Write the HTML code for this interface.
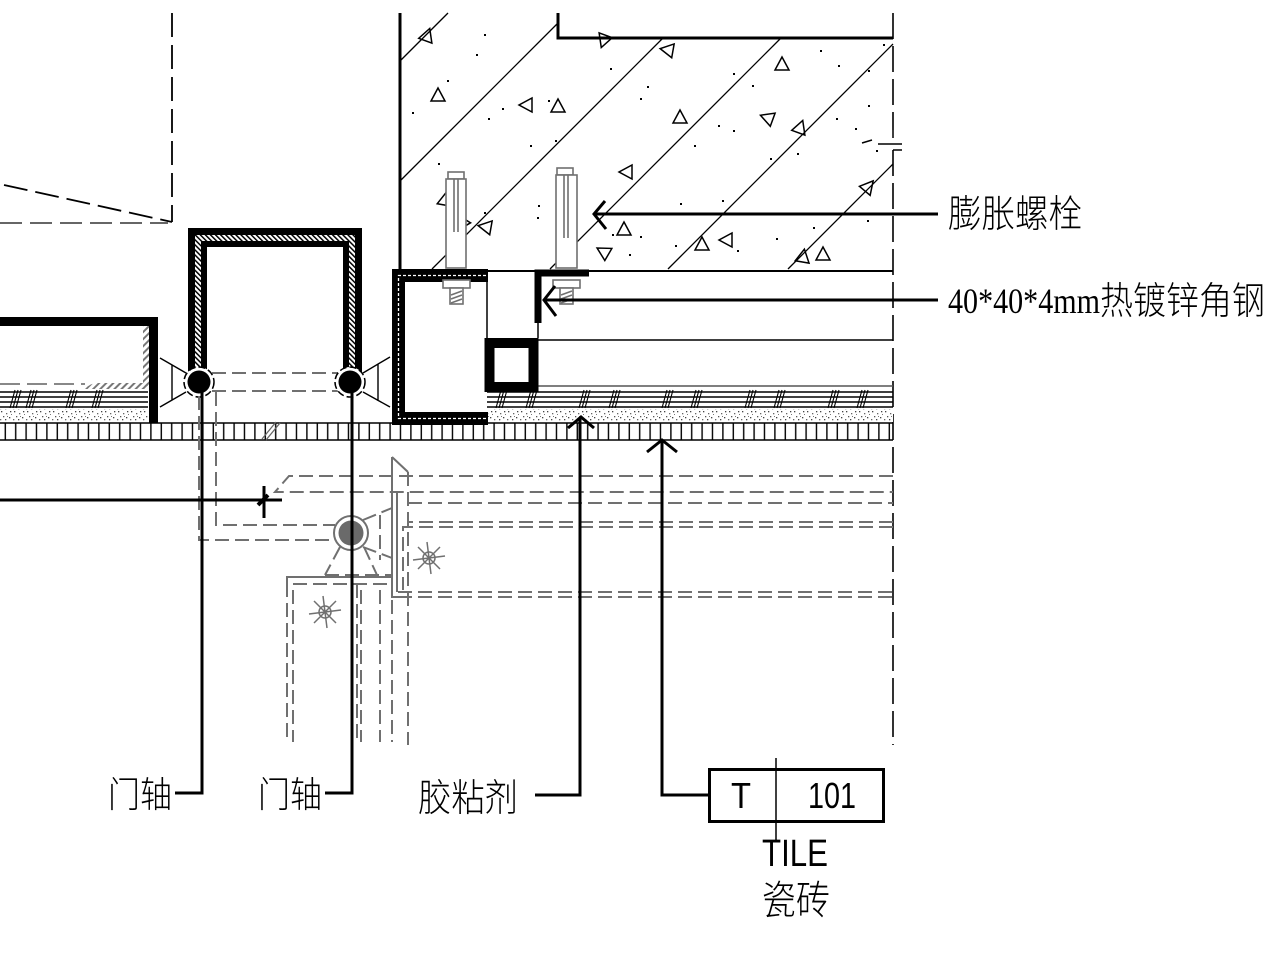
<!DOCTYPE html>
<html><head><meta charset="utf-8">
<style>html,body{margin:0;padding:0;background:#fff}svg{display:block}</style>
</head>
<body>
<svg width="1280" height="960" viewBox="0 0 1280 960" xmlns="http://www.w3.org/2000/svg">
<defs>
 <pattern id="ticks" patternUnits="userSpaceOnUse" x="0" y="423" width="10.4" height="17">
  <rect x="4.6" y="0" width="1.4" height="17" fill="#000"/>
 </pattern>
 <pattern id="dots" patternUnits="userSpaceOnUse" width="13" height="11" x="0" y="410">
  <rect width="13" height="11" fill="#fff"/>
  <rect x="1" y="1" width="1.3" height="1.3" fill="#444"/>
  <rect x="6" y="3" width="1.3" height="1.3" fill="#666"/>
  <rect x="10" y="1" width="1.3" height="1.3" fill="#444"/>
  <rect x="3" y="6" width="1.3" height="1.3" fill="#555"/>
  <rect x="9" y="7" width="1.3" height="1.3" fill="#444"/>
  <rect x="0" y="9" width="1.3" height="1.3" fill="#666"/>
  <rect x="5" y="9" width="1.3" height="1.3" fill="#444"/>
  <rect x="11" y="4" width="1" height="1" fill="#777"/>
  <rect x="7" y="6" width="1" height="1" fill="#777"/>
 </pattern>
 <pattern id="hatch" patternUnits="userSpaceOnUse" width="3.6" height="3.6" patternTransform="rotate(-45)">
  <rect x="0" y="0" width="1.5" height="3.6" fill="#000"/>
 </pattern>
 <pattern id="ghatch" patternUnits="userSpaceOnUse" width="5" height="5" patternTransform="rotate(45)">
  <rect x="0" y="0" width="2" height="5" fill="#777"/>
 </pattern>
 <g id="sl" stroke="#000" stroke-width="1.1">
  <line x1="0" y1="408" x2="5" y2="390"/>
  <line x1="3" y1="408" x2="8" y2="390"/>
  <line x1="6" y1="408" x2="11" y2="390"/>
 </g>
 <path id="tri" d="M-7,5 L7,5 L0,-8 Z" fill="none" stroke="#000" stroke-width="1.5"/>
 <g id="sun" stroke="#707070" stroke-width="1.5" fill="none">
  <circle cx="0" cy="0" r="6"/>
  <line x1="-16" y1="2" x2="16" y2="-2"/>
  <line x1="-2" y1="-16" x2="2" y2="16"/>
  <line x1="-11" y1="-11" x2="11" y2="11"/>
  <line x1="-11" y1="11" x2="11" y2="-11"/>
 </g>
</defs>

<!-- ===== top-left panel (dashed) ===== -->
<g fill="none" stroke="#000" stroke-width="1.8">
 <line x1="172" y1="13" x2="172" y2="222" stroke-dasharray="24 8"/>
 <line x1="4" y1="185" x2="172" y2="222" stroke-dasharray="24 8"/>
</g>
<line x1="0" y1="223" x2="168" y2="223" stroke="#666" stroke-width="2" stroke-dasharray="22 8"/>

<!-- ===== concrete ===== -->
<g fill="none" stroke="#000">
 <line x1="400" y1="13" x2="400" y2="271" stroke-width="3"/>
 <path d="M558,13 V38 H893" stroke-width="3"/>
 <g stroke-width="1.3">
  <line x1="400" y1="61" x2="448" y2="13"/>
  <line x1="400" y1="181" x2="558" y2="23"/>
  <line x1="432" y1="269" x2="663" y2="38"/>
  <line x1="550" y1="269" x2="781" y2="38"/>
  <line x1="668" y1="269" x2="893" y2="44"/>
  <line x1="788" y1="269" x2="893" y2="164"/>
 </g>
 <line x1="400" y1="271" x2="893" y2="271" stroke-width="2"/>
 <line x1="893" y1="13" x2="893" y2="130" stroke-width="1.6" stroke-dasharray="26 7"/>
 <line x1="893" y1="150" x2="893" y2="745" stroke-width="1.6" stroke-dasharray="26 7"/>
 <path d="M862,143 L872,140 M878,144 L902,144 M893,130 V138 M893,150 L902,150" stroke-width="1.5"/>
</g>
<!-- aggregate triangles -->
<g>
 <use href="#tri" transform="translate(427,36) rotate(20)"/>
 <use href="#tri" transform="translate(438,96)"/>
 <use href="#tri" transform="translate(527,105) rotate(-90)"/>
 <use href="#tri" transform="translate(558,107)"/>
 <use href="#tri" transform="translate(604,40) rotate(200)"/>
 <use href="#tri" transform="translate(668,50) rotate(-80)"/>
 <use href="#tri" transform="translate(680,118)"/>
 <use href="#tri" transform="translate(782,65)"/>
 <use href="#tri" transform="translate(768,118) rotate(-70)"/>
 <use href="#tri" transform="translate(800,128) rotate(20)"/>
 <use href="#tri" transform="translate(627,172) rotate(-90)"/>
 <use href="#tri" transform="translate(445,200) rotate(10)"/>
 <use href="#tri" transform="translate(462,222) rotate(-30)"/>
 <use href="#tri" transform="translate(486,227) rotate(-80)"/>
 <use href="#tri" transform="translate(604,252) rotate(-60)"/>
 <use href="#tri" transform="translate(624,230)"/>
 <use href="#tri" transform="translate(702,245)"/>
 <use href="#tri" transform="translate(727,240) rotate(-90)"/>
 <use href="#tri" transform="translate(803,257) rotate(10)"/>
 <use href="#tri" transform="translate(823,255)"/>
 <use href="#tri" transform="translate(868,187) rotate(40)"/>
</g>
<!-- dots -->
<g fill="#000">
 <rect x="484" y="34" width="2" height="2"/><rect x="476" y="54" width="2" height="2"/>
 <rect x="447" y="80" width="2" height="2"/><rect x="412" y="112" width="2" height="2"/>
 <rect x="488" y="118" width="2" height="2"/><rect x="502" y="108" width="2" height="2"/>
 <rect x="530" y="145" width="2" height="2"/><rect x="555" y="140" width="2" height="2"/>
 <rect x="548" y="100" width="2" height="2"/><rect x="610" y="68" width="2" height="2"/>
 <rect x="647" y="86" width="2" height="2"/><rect x="640" y="98" width="2" height="2"/>
 <rect x="694" y="145" width="2" height="2"/><rect x="718" y="125" width="2" height="2"/>
 <rect x="733" y="130" width="2" height="2"/><rect x="752" y="85" width="2" height="2"/>
 <rect x="733" y="73" width="2" height="2"/><rect x="820" y="50" width="2" height="2"/>
 <rect x="838" y="65" width="2" height="2"/><rect x="868" y="105" width="2" height="2"/>
 <rect x="868" y="70" width="2" height="2"/><rect x="883" y="44" width="2" height="2"/>
 <rect x="855" y="128" width="2" height="2"/><rect x="836" y="118" width="2" height="2"/>
 <rect x="770" y="158" width="2" height="2"/><rect x="797" y="153" width="2" height="2"/>
 <rect x="538" y="205" width="2" height="2"/><rect x="537" y="217" width="2" height="2"/>
 <rect x="612" y="234" width="2" height="2"/><rect x="629" y="254" width="2" height="2"/>
 <rect x="640" y="236" width="2" height="2"/><rect x="675" y="245" width="2" height="2"/>
 <rect x="680" y="203" width="2" height="2"/><rect x="776" y="238" width="2" height="2"/>
 <rect x="813" y="227" width="2" height="2"/><rect x="840" y="213" width="2" height="2"/>
 <rect x="867" y="220" width="2" height="2"/><rect x="876" y="150" width="2" height="2"/>
 <rect x="484" y="212" width="2" height="2"/><rect x="438" y="163" width="2" height="2"/>
 <rect x="737" y="250" width="2" height="2"/><rect x="722" y="200" width="2" height="2"/>
</g>

<!-- ===== expansion bolts (gray) ===== -->
<g fill="#fff" stroke="#707070" stroke-width="1.6">
 <rect x="448" y="172" width="16" height="7"/>
 <rect x="446" y="179" width="20" height="89"/>
 <line x1="454" y1="179" x2="454" y2="232"/>
 <line x1="458" y1="179" x2="458" y2="232"/>
 <rect x="557" y="168" width="16" height="7"/>
 <rect x="556" y="175" width="21" height="93"/>
 <line x1="564" y1="175" x2="564" y2="238"/>
 <line x1="568" y1="175" x2="568" y2="238"/>
</g>

<!-- ===== layers: hatch lines, adhesive, tile strip ===== -->
<g stroke="#000" stroke-width="1.5">
 <line x1="538" y1="386" x2="893" y2="386" stroke="#555"/>
 <line x1="0" y1="392" x2="148" y2="392"/>
 <line x1="0" y1="397" x2="148" y2="397"/>
 <line x1="0" y1="402" x2="148" y2="402"/>
 <line x1="0" y1="407" x2="148" y2="407"/>
 <line x1="487" y1="392" x2="893" y2="392"/>
 <line x1="487" y1="397" x2="893" y2="397"/>
 <line x1="487" y1="402" x2="893" y2="402"/>
 <line x1="487" y1="407" x2="893" y2="407"/>
</g>
<g>
 <use href="#sl" x="10"/><use href="#sl" x="26"/><use href="#sl" x="66"/><use href="#sl" x="92"/>
 <use href="#sl" x="496"/><use href="#sl" x="526"/><use href="#sl" x="579"/><use href="#sl" x="609"/>
 <use href="#sl" x="662"/><use href="#sl" x="691"/><use href="#sl" x="745"/><use href="#sl" x="774"/>
 <use href="#sl" x="828"/><use href="#sl" x="857"/>
</g>
<rect x="0" y="409" width="148" height="13" fill="url(#dots)"/>
<rect x="488" y="409" width="405" height="13" fill="url(#dots)"/>
<rect x="0" y="423" width="893" height="17" fill="url(#ticks)"/>
<line x1="0" y1="423" x2="893" y2="423" stroke="#000" stroke-width="1.6"/>
<line x1="0" y1="440" x2="893" y2="440" stroke="#000" stroke-width="1.6"/>
<path d="M262,439 L276,422 M266,440 L280,423" stroke="#666" stroke-width="1.3" fill="none"/>

<!-- ===== left door panel ===== -->
<rect x="143" y="326" width="6" height="60" fill="url(#ghatch)"/>
<path d="M85,389 Q90,383 98,383 H148 V389 H92 Z" fill="url(#ghatch)"/>
<line x1="0" y1="384" x2="85" y2="384" stroke="#777" stroke-width="1.8" stroke-dasharray="20 7"/>
<path d="M0,321.5 H153.5 V423" fill="none" stroke="#000" stroke-width="9"/>

<!-- ===== U channel (hatched) ===== -->
<path d="M195,372 V235 H355 V372 H349 V241 H201 V372 Z" fill="url(#hatch)"/>
<path d="M191.5,372 V231.5 H358.5 V372" fill="none" stroke="#000" stroke-width="7"/>
<path d="M204,372 V244 H346 V372" fill="none" stroke="#000" stroke-width="6"/>

<!-- fans -->
<g stroke="#000" stroke-width="1.4" fill="none">
 <path d="M186,373 L160,358 M186,392 L160,407 M172,365 V400"/>
 <path d="M363,373 L390,357 M363,392 L390,407 M378,364 V401"/>
</g>

<!-- dashed gray between pivots -->
<g stroke="#707070" stroke-width="2" fill="none" stroke-dasharray="14 6">
 <path d="M212,373 H338"/>
 <path d="M212,391 H338"/>
</g>

<!-- pivots -->
<g>
 <circle cx="199" cy="382" r="15" fill="#fff" stroke="#000" stroke-width="1.5" stroke-dasharray="7 3"/>
 <circle cx="199" cy="382" r="11.5" fill="#000"/>
 <circle cx="350" cy="382" r="15" fill="#fff" stroke="#000" stroke-width="1.5" stroke-dasharray="7 3"/>
 <circle cx="350" cy="382" r="11.5" fill="#000"/>
</g>

<!-- ===== C channel / square tube / angle ===== -->
<path d="M488,275.5 H398.5 V418.5 H488" fill="none" stroke="#000" stroke-width="13"/>
<path d="M486,275.5 H398.5 V418.5 H486" fill="none" stroke="#fff" stroke-width="1.3" stroke-dasharray="3 2"/>
<line x1="487" y1="282" x2="487" y2="338" stroke="#000" stroke-width="1.5"/>
<line x1="538" y1="323" x2="538" y2="338" stroke="#000" stroke-width="1.5"/>
<line x1="538" y1="340" x2="893" y2="340" stroke="#000" stroke-width="1.5"/>
<rect x="489.5" y="343" width="44" height="44" fill="#fff" stroke="#000" stroke-width="10"/>
<path d="M538,323 V273 H589" fill="none" stroke="#000" stroke-width="7"/>

<!-- bolt nuts & threads -->
<g fill="#fff" stroke="#707070" stroke-width="1.6">
 <rect x="443" y="280" width="27" height="8"/>
 <rect x="450" y="288" width="13" height="16"/>
 <path d="M451,295 L462,291 M451,299 L462,295 M451,303 L462,299" fill="none"/>
 <rect x="553" y="280" width="27" height="8"/>
 <rect x="560" y="288" width="13" height="16"/>
 <path d="M561,295 L572,291 M561,299 L572,295 M561,303 L572,299" fill="none"/>
</g>

<!-- ===== lower dashed (hidden) details ===== -->
<g stroke="#707070" stroke-width="2" fill="none" stroke-dasharray="14 6">
 <path d="M199,396 V540 H333"/>
 <path d="M216,392 V525 H335"/>
 <path d="M893,476 H289 L275,492 H893"/>
 <path d="M408,503 H893"/>
 <path d="M893,522 H408"/>
 <path d="M893,527 H403 V590"/>
 <path d="M408,472 V745"/>
 <path d="M363,520 L392,508"/>
 <path d="M363,547 L392,558"/>
 <path d="M340,547 L325,575"/>
 <path d="M364,547 L377,575"/>
 <path d="M325,575 H392"/>
 <path d="M380,515 V560"/>
 <path d="M293,584 H392"/>
 <path d="M287,583 V742"/>
 <path d="M293,590 V742"/>
 <path d="M357,584 V742"/>
 <path d="M361,590 V742"/>
 <path d="M380,590 V742"/>
 <path d="M392,600 V742"/>
 <path d="M398,592 H893"/>
 <path d="M398,597 H893"/>
</g>
<g stroke="#707070" stroke-width="2" fill="none">
 <path d="M392,457 L408,472"/>
 <path d="M392,457 V597 H400"/>
 <path d="M397,493 V592"/>
 <path d="M287,583 V577 H392"/>
</g>
<circle cx="351" cy="533" r="17" fill="#fff" stroke="#707070" stroke-width="2"/>
<circle cx="351" cy="533" r="12.5" fill="#6a6a6a"/>
<use href="#sun" transform="translate(429,558)"/>
<use href="#sun" transform="translate(325,612)"/>

<!-- ===== leaders ===== -->
<g stroke="#000" stroke-width="3" fill="none">
 <path d="M0,500 H282"/>
 <path d="M264,486 V518"/>
 <path d="M258,505 L268,495" stroke-width="4"/>
 <path d="M202,382 V793 H175"/>
 <path d="M352,382 V793 H325"/>
 <path d="M580,418 V795 H535"/>
 <path d="M568,428 L581,417 L594,428"/>
 <path d="M662,440 V795 H708"/>
 <path d="M647,452 L662,440 L677,452"/>
 <path d="M594,214 H938"/>
 <path d="M605,201 L594,214 L606,229"/>
 <path d="M544,300 H938"/>
 <path d="M555,286 L544,300 L556,316"/>
</g>

<!-- tile tag -->
<rect x="709.5" y="769.5" width="174" height="52" fill="#fff" stroke="#000" stroke-width="3"/>
<line x1="776" y1="758" x2="776" y2="842" stroke="#000" stroke-width="1.5"/>

<!-- ===== text ===== -->
<g fill="#000" font-family="'Liberation Sans','Noto Sans CJK SC',sans-serif">
 <text x="948" y="227" font-size="38" textLength="134" lengthAdjust="spacingAndGlyphs" font-family="'Noto Sans CJK SC',sans-serif" font-weight="300">膨胀螺栓</text>
 <text x="948" y="313" font-size="36" textLength="152" lengthAdjust="spacingAndGlyphs" font-family="'Liberation Serif',serif">40*40*4mm</text>
 <text x="1100" y="314" font-size="38" textLength="165" lengthAdjust="spacingAndGlyphs" font-family="'Noto Sans CJK SC',sans-serif" font-weight="300">热镀锌角钢</text>
 <text x="108" y="807" font-size="36" textLength="64" lengthAdjust="spacingAndGlyphs" font-family="'Noto Sans CJK SC',sans-serif" font-weight="300">门轴</text>
 <text x="258" y="807" font-size="36" textLength="64" lengthAdjust="spacingAndGlyphs" font-family="'Noto Sans CJK SC',sans-serif" font-weight="300">门轴</text>
 <text x="418" y="811" font-size="38" textLength="100" lengthAdjust="spacingAndGlyphs" font-family="'Noto Sans CJK SC',sans-serif" font-weight="300">胶粘剂</text>
 <text x="731" y="808" font-size="36" textLength="20" lengthAdjust="spacingAndGlyphs">T</text>
 <text x="808" y="808" font-size="36" textLength="48" lengthAdjust="spacingAndGlyphs">101</text>
 <text x="762" y="866" font-size="38" textLength="66" lengthAdjust="spacingAndGlyphs">TILE</text>
 <text x="762" y="914" font-size="40" textLength="68" lengthAdjust="spacingAndGlyphs" font-family="'Noto Sans CJK SC',sans-serif" font-weight="300">瓷砖</text>
</g>
</svg>
</body></html>
